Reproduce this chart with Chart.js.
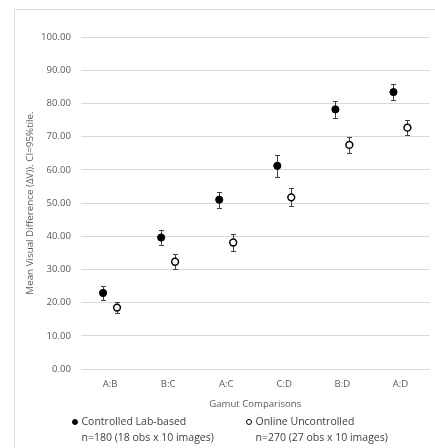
<!DOCTYPE html>
<html>
<head>
<meta charset="utf-8">
<script src="https://cdn.jsdelivr.net/npm/chart.js@4.4.1/dist/chart.umd.min.js"></script>
<style>
    body { margin: 0; background: #fff; overflow: hidden; }
    #wrap { position: absolute; left: 0; top: 0; width: 435px; height: 448px; }
    .legend-item {
        position: absolute; top: 414px;
        font: 10.5px 'Open Sans', sans-serif; line-height: 15.5px;
        color: #404040; white-space: nowrap; padding-left: 10.5px;
    }
    .legend-item .mark {
        position: absolute; left: 1px; top: 4.75px;
        width: 6px; height: 6px; box-sizing: border-box;
        border: 1.3px solid #000; border-radius: 50%;
    }
</style>
</head>
<body>
<div id="wrap"><canvas id="gamutChart"></canvas></div>
<div id="legend"></div>
<script>
const categories = ["A:B", "B:C", "A:C", "C:D", "B:D", "A:D"];
const labMeans = [22.9, 39.6, 51.0, 61.2, 78.2, 83.4];
const labErr = [2.1, 2.4, 2.4, 3.3, 2.6, 2.4];
const onlineMeans = [18.5, 32.3, 38.1, 51.7, 67.5, 72.7];
const onlineErr = [1.7, 2.2, 2.5, 2.7, 2.3, 2.3];
const yTicks = [0, 10, 20, 30, 40, 50, 60, 70, 80, 90, 100];
const legendLines = [
    ["Controlled Lab-based", "n=180 (18 obs x 10 images)"],
    ["Online Uncontrolled", "n=270 (27 obs x 10 images)"],
];

const FONT = "'Open Sans', sans-serif";
const DOT_OFFSET = 0.12; // side-by-side shift inside a category

function toPoints(values, shift) {
    return values.map((v, i) => ({ x: i + shift, y: v }));
}

// outer chart frame, only its top-left corner is in view
const chartFrame = {
    id: "chartFrame",
    beforeDraw(chart) {
        const ctx = chart.ctx;
        ctx.save();
        ctx.strokeStyle = "#d9d9d9";
        ctx.lineWidth = 1;
        ctx.beginPath();
        ctx.moveTo(14.5, chart.height);
        ctx.lineTo(14.5, 9.5);
        ctx.lineTo(chart.width, 9.5);
        ctx.stroke();
        ctx.restore();
    },
};

// whiskers drawn under the markers
const errorBars = {
    id: "errorBars",
    beforeDatasetsDraw(chart) {
        const ctx = chart.ctx;
        const y = chart.scales.y;
        ctx.save();
        ctx.strokeStyle = "#404040";
        ctx.lineWidth = 1;
        chart.data.datasets.forEach((ds, di) => {
            const meta = chart.getDatasetMeta(di);
            meta.data.forEach((pt, i) => {
                const v = ds.data[i].y;
                const e = ds.errors[i];
                const px = Math.round(pt.x) + 0.5;
                const top = Math.round(y.getPixelForValue(v + e)) + 0.5;
                const bot = Math.round(y.getPixelForValue(v - e)) + 0.5;
                ctx.beginPath();
                ctx.moveTo(px, top);
                ctx.lineTo(px, bot);
                ctx.moveTo(px - 2.5, top);
                ctx.lineTo(px + 2.5, top);
                ctx.moveTo(px - 2.5, bot);
                ctx.lineTo(px + 2.5, bot);
                ctx.stroke();
            });
        });
        ctx.restore();
    },
};

// html legend, two lines per series
function buildLegend(chart) {
    const box = document.getElementById("legend");
    const lefts = [71, 245];
    box.innerHTML = "";
    chart.data.datasets.forEach((ds, di) => {
        const item = document.createElement("div");
        item.className = "legend-item";
        item.style.left = lefts[di] + "px";
        const mark = document.createElement("span");
        mark.className = "mark";
        mark.style.background = ds.backgroundColor;
        item.appendChild(mark);
        legendLines[di].forEach((line) => {
            const row = document.createElement("div");
            row.textContent = line;
            item.appendChild(row);
        });
        box.appendChild(item);
    });
}

document.addEventListener("DOMContentLoaded", () => {
    const ctx = document.getElementById("gamutChart").getContext("2d");

    const chart = new Chart(ctx, {
        type: "scatter",
        data: {
            datasets: [
                {
                    label: "Controlled Lab-based",
                    data: toPoints(labMeans, -DOT_OFFSET),
                    errors: labErr,
                    backgroundColor: "#000000",
                    borderColor: "#000000",
                    borderWidth: 1,
                    pointRadius: 3.6,
                },
                {
                    label: "Online Uncontrolled",
                    data: toPoints(onlineMeans, DOT_OFFSET),
                    errors: onlineErr,
                    backgroundColor: "#ffffff",
                    borderColor: "#000000",
                    borderWidth: 1.5,
                    pointRadius: 3.4,
                },
            ],
        },
        options: {
            responsive: true,
            maintainAspectRatio: false,
            animation: false,
            layout: {
                padding: { left: 0, right: 4, top: 37, bottom: 31 },
            },
            plugins: {
                legend: { display: false },
                tooltip: { enabled: false },
            },
            scales: {
                x: {
                    type: "linear",
                    min: -0.5,
                    max: categories.length - 0.5,
                    grid: { display: false, drawTicks: false },
                    border: { display: false },
                    afterBuildTicks: (scale) => {
                        scale.ticks = categories.map((c, i) => ({ value: i }));
                    },
                    afterFit: (scale) => {
                        scale.height = 48;
                    },
                    ticks: {
                        padding: 10,
                        color: "#595959",
                        font: { family: FONT, size: 9.6 },
                        maxRotation: 0,
                        autoSkip: false,
                        callback: (value) => categories[value],
                    },
                    title: {
                        display: true,
                        text: "Gamut Comparisons",
                        color: "#595959",
                        font: { family: FONT, size: 9.6 },
                        padding: { top: 0, bottom: 7 },
                    },
                },
                y: {
                    min: 0,
                    max: 100,
                    grid: { color: "#d9d9d9", lineWidth: 1, drawTicks: false },
                    border: { display: false },
                    afterBuildTicks: (scale) => {
                        scale.ticks = yTicks.map((v) => ({ value: v }));
                    },
                    afterFit: (scale) => {
                        scale.width = 81;
                    },
                    ticks: {
                        padding: 10,
                        color: "#595959",
                        font: { family: FONT, size: 9.6 },
                        callback: (value) => value.toFixed(2),
                    },
                    title: {
                        display: true,
                        text: "Mean Visual Difference (ΔV)). CI=95%tile.",
                        color: "#595959",
                        font: { family: FONT, size: 9.8 },
                        padding: { top: 24, bottom: 0 },
                    },
                },
            },
        },
        plugins: [chartFrame, errorBars],
    });

    buildLegend(chart);
});
</script>
</body>
</html>
